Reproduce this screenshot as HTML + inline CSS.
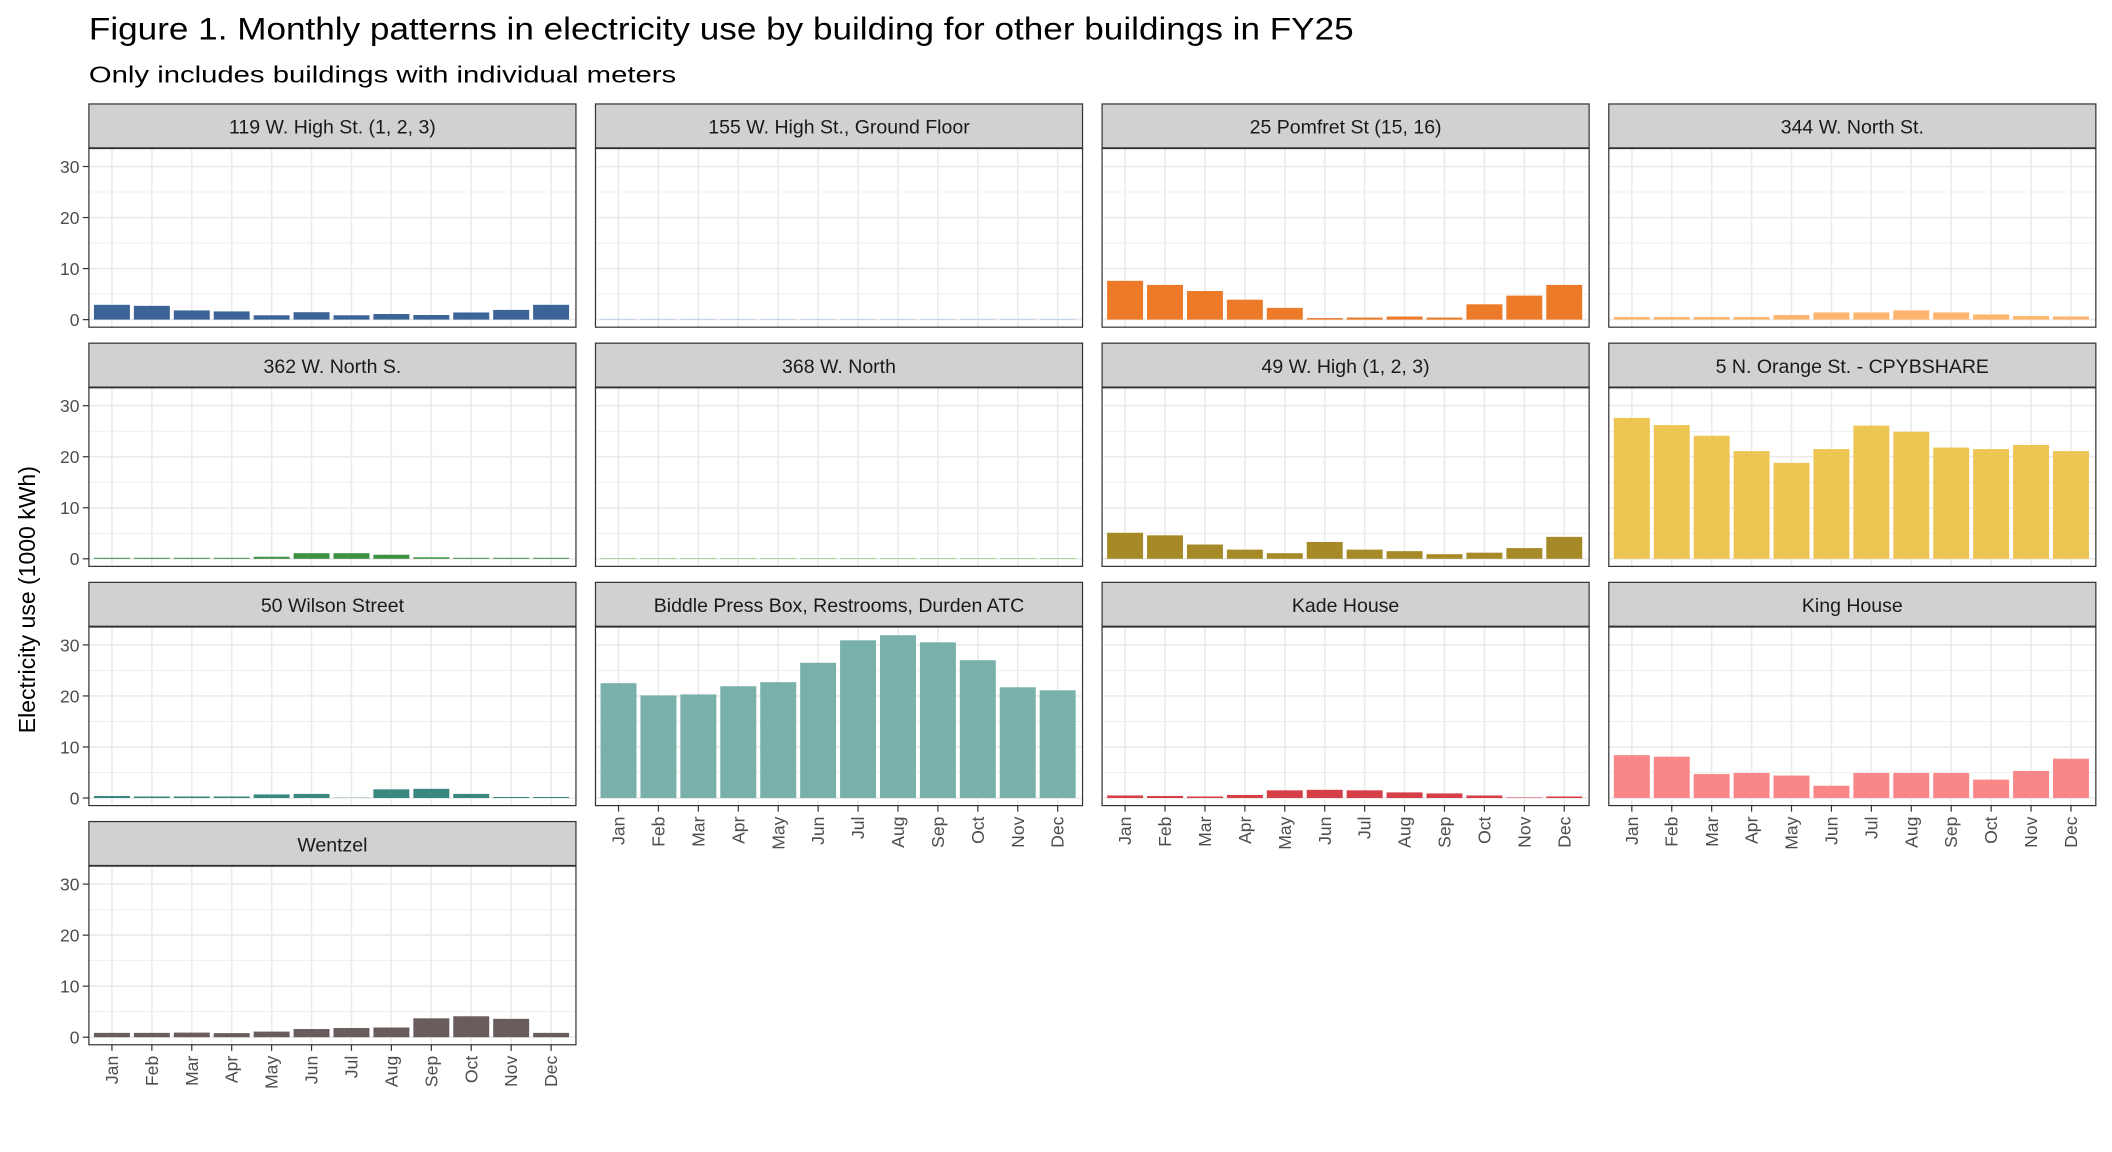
<!DOCTYPE html>
<html><head><meta charset="utf-8"><style>
html,body{margin:0;padding:0;background:#fff;}
svg{display:block;font-family:"Liberation Sans",Arial,sans-serif;}
.st{fill:#d1d1d1;stroke:#333;stroke-width:0.9}
.stt{font-size:14.5px;fill:#1a1a1a;text-anchor:middle}
.yl{font-size:13px;fill:#4d4d4d;text-anchor:end}
.xl{font-size:13px;fill:#4d4d4d;text-anchor:end}
.bd{fill:none;stroke:#333;stroke-width:0.9}
</style></head><body>
<svg width="2112" height="1152" viewBox="0 0 1568 851" preserveAspectRatio="none" xmlns="http://www.w3.org/2000/svg">
<defs>
<g id="grid">
<rect x="0" y="32.7" width="361.6" height="132.2" fill="#fff"/>
<g stroke="#ebebeb" stroke-width="0.6">
<line x1="0" x2="361.6" y1="140.45" y2="140.45"/><line x1="0" x2="361.6" y1="102.75" y2="102.75"/><line x1="0" x2="361.6" y1="65.05" y2="65.05"/>
</g>
<g stroke="#ebebeb" stroke-width="1.2">
<line x1="0" x2="361.6" y1="159.3" y2="159.3"/><line x1="0" x2="361.6" y1="121.6" y2="121.6"/><line x1="0" x2="361.6" y1="83.9" y2="83.9"/><line x1="0" x2="361.6" y1="46.2" y2="46.2"/>
<line y1="32.7" y2="164.9" x1="17.1" x2="17.1"/><line y1="32.7" y2="164.9" x1="46.74" x2="46.74"/><line y1="32.7" y2="164.9" x1="76.38" x2="76.38"/><line y1="32.7" y2="164.9" x1="106.02" x2="106.02"/><line y1="32.7" y2="164.9" x1="135.66" x2="135.66"/><line y1="32.7" y2="164.9" x1="165.3" x2="165.3"/><line y1="32.7" y2="164.9" x1="194.94" x2="194.94"/><line y1="32.7" y2="164.9" x1="224.58" x2="224.58"/><line y1="32.7" y2="164.9" x1="254.22" x2="254.22"/><line y1="32.7" y2="164.9" x1="283.86" x2="283.86"/><line y1="32.7" y2="164.9" x1="313.5" x2="313.5"/><line y1="32.7" y2="164.9" x1="343.14" x2="343.14"/>
</g>
</g>
<g id="frame">
<rect class="bd" x="0" y="32.7" width="361.6" height="132.2"/>
<rect class="st" x="0" y="0" width="361.6" height="32.7"/>
<line x1="0" x2="361.6" y1="32.7" y2="32.7" stroke="#333" stroke-width="1.4"/>
</g>
<g id="yax" stroke="#333" stroke-width="0.9">
<line x1="-4.5" x2="0" y1="159.3" y2="159.3"/><line x1="-4.5" x2="0" y1="121.6" y2="121.6"/><line x1="-4.5" x2="0" y1="83.9" y2="83.9"/><line x1="-4.5" x2="0" y1="46.2" y2="46.2"/>
</g>
<g id="xax" stroke="#333" stroke-width="0.9">
<line y1="164.9" y2="169.4" x1="17.1" x2="17.1"/><line y1="164.9" y2="169.4" x1="46.74" x2="46.74"/><line y1="164.9" y2="169.4" x1="76.38" x2="76.38"/><line y1="164.9" y2="169.4" x1="106.02" x2="106.02"/><line y1="164.9" y2="169.4" x1="135.66" x2="135.66"/><line y1="164.9" y2="169.4" x1="165.3" x2="165.3"/><line y1="164.9" y2="169.4" x1="194.94" x2="194.94"/><line y1="164.9" y2="169.4" x1="224.58" x2="224.58"/><line y1="164.9" y2="169.4" x1="254.22" x2="254.22"/><line y1="164.9" y2="169.4" x1="283.86" x2="283.86"/><line y1="164.9" y2="169.4" x1="313.5" x2="313.5"/><line y1="164.9" y2="169.4" x1="343.14" x2="343.14"/>
</g>
</defs>

<text x="66" y="29" font-size="23" fill="#000" textLength="939" lengthAdjust="spacingAndGlyphs">Figure 1. Monthly patterns in electricity use by building for other buildings in FY25</text>
<text x="66" y="61" font-size="17" fill="#000" textLength="436" lengthAdjust="spacingAndGlyphs">Only includes buildings with individual meters</text>
<text transform="translate(26,443) rotate(-90)" font-size="17" fill="#000" text-anchor="middle">Electricity use (1000 kWh)</text>

<!-- Row 1 -->
<g transform="translate(66,76.8)">
<use href="#grid"/>
<g transform="translate(0,159.3) scale(1,-3.77)" fill="#3d6496">
<rect x="3.75" width="26.7" height="2.9"/><rect x="33.39" width="26.7" height="2.7"/><rect x="63.03" width="26.7" height="1.8"/><rect x="92.67" width="26.7" height="1.6"/><rect x="122.31" width="26.7" height="0.85"/><rect x="151.95" width="26.7" height="1.45"/><rect x="181.59" width="26.7" height="0.85"/><rect x="211.23" width="26.7" height="1.1"/><rect x="240.87" width="26.7" height="0.9"/><rect x="270.51" width="26.7" height="1.4"/><rect x="300.15" width="26.7" height="1.9"/><rect x="329.79" width="26.7" height="2.9"/>
</g>
<use href="#frame"/><text class="stt" x="180.8" y="22">119 W. High St. (1, 2, 3)</text>
<use href="#yax"/>
<text class="yl" x="-7" y="164">0</text><text class="yl" x="-7" y="126.3">10</text><text class="yl" x="-7" y="88.6">20</text><text class="yl" x="-7" y="50.9">30</text>
</g>
<g transform="translate(442.1,76.8)">
<use href="#grid"/>
<g transform="translate(0,159.3) scale(1,-3.77)" fill="#aec7e8">
<rect x="3.75" width="26.7" height="0.15"/><rect x="33.39" width="26.7" height="0.15"/><rect x="63.03" width="26.7" height="0.15"/><rect x="92.67" width="26.7" height="0.12"/><rect x="122.31" width="26.7" height="0.12"/><rect x="151.95" width="26.7" height="0.12"/><rect x="181.59" width="26.7" height="0.12"/><rect x="211.23" width="26.7" height="0.12"/><rect x="240.87" width="26.7" height="0.12"/><rect x="270.51" width="26.7" height="0.15"/><rect x="300.15" width="26.7" height="0.15"/><rect x="329.79" width="26.7" height="0.15"/>
</g>
<use href="#frame"/><text class="stt" x="180.8" y="22">155 W. High St., Ground Floor</text>
</g>
<g transform="translate(818.2,76.8)">
<use href="#grid"/>
<g transform="translate(0,159.3) scale(1,-3.77)" fill="#ec7a28">
<rect x="3.75" width="26.7" height="7.6"/><rect x="33.39" width="26.7" height="6.8"/><rect x="63.03" width="26.7" height="5.6"/><rect x="92.67" width="26.7" height="3.9"/><rect x="122.31" width="26.7" height="2.3"/><rect x="151.95" width="26.7" height="0.3"/><rect x="181.59" width="26.7" height="0.4"/><rect x="211.23" width="26.7" height="0.6"/><rect x="240.87" width="26.7" height="0.4"/><rect x="270.51" width="26.7" height="3.0"/><rect x="300.15" width="26.7" height="4.7"/><rect x="329.79" width="26.7" height="6.8"/>
</g>
<use href="#frame"/><text class="stt" x="180.8" y="22">25 Pomfret St (15, 16)</text>
</g>
<g transform="translate(1194.4,76.8)">
<use href="#grid"/>
<g transform="translate(0,159.3) scale(1,-3.77)" fill="#fdb56e">
<rect x="3.75" width="26.7" height="0.5"/><rect x="33.39" width="26.7" height="0.5"/><rect x="63.03" width="26.7" height="0.5"/><rect x="92.67" width="26.7" height="0.5"/><rect x="122.31" width="26.7" height="0.9"/><rect x="151.95" width="26.7" height="1.4"/><rect x="181.59" width="26.7" height="1.4"/><rect x="211.23" width="26.7" height="1.8"/><rect x="240.87" width="26.7" height="1.4"/><rect x="270.51" width="26.7" height="1.0"/><rect x="300.15" width="26.7" height="0.7"/><rect x="329.79" width="26.7" height="0.6"/>
</g>
<use href="#frame"/><text class="stt" x="180.8" y="22">344 W. North St.</text>
</g>

<!-- Row 2 -->
<g transform="translate(66,253.5)">
<use href="#grid"/>
<g transform="translate(0,159.3) scale(1,-3.77)" fill="#3c9242">
<rect x="3.75" width="26.7" height="0.2"/><rect x="33.39" width="26.7" height="0.2"/><rect x="63.03" width="26.7" height="0.2"/><rect x="92.67" width="26.7" height="0.2"/><rect x="122.31" width="26.7" height="0.4"/><rect x="151.95" width="26.7" height="1.1"/><rect x="181.59" width="26.7" height="1.1"/><rect x="211.23" width="26.7" height="0.8"/><rect x="240.87" width="26.7" height="0.3"/><rect x="270.51" width="26.7" height="0.2"/><rect x="300.15" width="26.7" height="0.2"/><rect x="329.79" width="26.7" height="0.2"/>
</g>
<use href="#frame"/><text class="stt" x="180.8" y="22">362 W. North S.</text>
<use href="#yax"/>
<text class="yl" x="-7" y="164">0</text><text class="yl" x="-7" y="126.3">10</text><text class="yl" x="-7" y="88.6">20</text><text class="yl" x="-7" y="50.9">30</text>
</g>
<g transform="translate(442.1,253.5)">
<use href="#grid"/>
<g transform="translate(0,159.3) scale(1,-3.77)" fill="#8fd07c">
<rect x="3.75" width="26.7" height="0.15"/><rect x="33.39" width="26.7" height="0.15"/><rect x="63.03" width="26.7" height="0.15"/><rect x="92.67" width="26.7" height="0.15"/><rect x="122.31" width="26.7" height="0.15"/><rect x="151.95" width="26.7" height="0.15"/><rect x="181.59" width="26.7" height="0.15"/><rect x="211.23" width="26.7" height="0.15"/><rect x="240.87" width="26.7" height="0.15"/><rect x="270.51" width="26.7" height="0.15"/><rect x="300.15" width="26.7" height="0.15"/><rect x="329.79" width="26.7" height="0.15"/>
</g>
<use href="#frame"/><text class="stt" x="180.8" y="22">368 W. North</text>
</g>
<g transform="translate(818.2,253.5)">
<use href="#grid"/>
<g transform="translate(0,159.3) scale(1,-3.77)" fill="#a68a27">
<rect x="3.75" width="26.7" height="5.1"/><rect x="33.39" width="26.7" height="4.6"/><rect x="63.03" width="26.7" height="2.8"/><rect x="92.67" width="26.7" height="1.8"/><rect x="122.31" width="26.7" height="1.1"/><rect x="151.95" width="26.7" height="3.3"/><rect x="181.59" width="26.7" height="1.8"/><rect x="211.23" width="26.7" height="1.5"/><rect x="240.87" width="26.7" height="0.9"/><rect x="270.51" width="26.7" height="1.2"/><rect x="300.15" width="26.7" height="2.1"/><rect x="329.79" width="26.7" height="4.3"/>
</g>
<use href="#frame"/><text class="stt" x="180.8" y="22">49 W. High (1, 2, 3)</text>
</g>
<g transform="translate(1194.4,253.5)">
<use href="#grid"/>
<g transform="translate(0,159.3) scale(1,-3.77)" fill="#ecc552">
<rect x="3.75" width="26.7" height="27.6"/><rect x="33.39" width="26.7" height="26.2"/><rect x="63.03" width="26.7" height="24.1"/><rect x="92.67" width="26.7" height="21.1"/><rect x="122.31" width="26.7" height="18.8"/><rect x="151.95" width="26.7" height="21.5"/><rect x="181.59" width="26.7" height="26.1"/><rect x="211.23" width="26.7" height="24.9"/><rect x="240.87" width="26.7" height="21.8"/><rect x="270.51" width="26.7" height="21.5"/><rect x="300.15" width="26.7" height="22.3"/><rect x="329.79" width="26.7" height="21.1"/>
</g>
<use href="#frame"/><text class="stt" x="180.8" y="22">5 N. Orange St. - CPYBSHARE</text>
</g>

<!-- Row 3 -->
<g transform="translate(66,430.2)">
<use href="#grid"/>
<g transform="translate(0,159.3) scale(1,-3.77)" fill="#3a8780">
<rect x="3.75" width="26.7" height="0.4"/><rect x="33.39" width="26.7" height="0.3"/><rect x="63.03" width="26.7" height="0.3"/><rect x="92.67" width="26.7" height="0.3"/><rect x="122.31" width="26.7" height="0.7"/><rect x="151.95" width="26.7" height="0.8"/><rect x="181.59" width="26.7" height="0.05"/><rect x="211.23" width="26.7" height="1.7"/><rect x="240.87" width="26.7" height="1.8"/><rect x="270.51" width="26.7" height="0.8"/><rect x="300.15" width="26.7" height="0.2"/><rect x="329.79" width="26.7" height="0.2"/>
</g>
<use href="#frame"/><text class="stt" x="180.8" y="22">50 Wilson Street</text>
<use href="#yax"/>
<text class="yl" x="-7" y="164">0</text><text class="yl" x="-7" y="126.3">10</text><text class="yl" x="-7" y="88.6">20</text><text class="yl" x="-7" y="50.9">30</text>
</g>
<g transform="translate(442.1,430.2)">
<use href="#grid"/>
<g transform="translate(0,159.3) scale(1,-3.77)" fill="#79b1aa">
<rect x="3.75" width="26.7" height="22.5"/><rect x="33.39" width="26.7" height="20.1"/><rect x="63.03" width="26.7" height="20.3"/><rect x="92.67" width="26.7" height="21.9"/><rect x="122.31" width="26.7" height="22.7"/><rect x="151.95" width="26.7" height="26.5"/><rect x="181.59" width="26.7" height="30.9"/><rect x="211.23" width="26.7" height="31.9"/><rect x="240.87" width="26.7" height="30.5"/><rect x="270.51" width="26.7" height="27.0"/><rect x="300.15" width="26.7" height="21.7"/><rect x="329.79" width="26.7" height="21.1"/>
</g>
<use href="#frame"/><text class="stt" x="180.8" y="22">Biddle Press Box, Restrooms, Durden ATC</text>
<use href="#xax"/>
<g class="xl">
<text transform="translate(21.6,173) rotate(-90)">Jan</text><text transform="translate(51.2,173) rotate(-90)">Feb</text><text transform="translate(80.9,173) rotate(-90)">Mar</text><text transform="translate(110.5,173) rotate(-90)">Apr</text><text transform="translate(140.2,173) rotate(-90)">May</text><text transform="translate(169.8,173) rotate(-90)">Jun</text><text transform="translate(199.4,173) rotate(-90)">Jul</text><text transform="translate(229.1,173) rotate(-90)">Aug</text><text transform="translate(258.7,173) rotate(-90)">Sep</text><text transform="translate(288.4,173) rotate(-90)">Oct</text><text transform="translate(318,173) rotate(-90)">Nov</text><text transform="translate(347.6,173) rotate(-90)">Dec</text>
</g>
</g>
<g transform="translate(818.2,430.2)">
<use href="#grid"/>
<g transform="translate(0,159.3) scale(1,-3.77)" fill="#d63f47">
<rect x="3.75" width="26.7" height="0.5"/><rect x="33.39" width="26.7" height="0.4"/><rect x="63.03" width="26.7" height="0.3"/><rect x="92.67" width="26.7" height="0.6"/><rect x="122.31" width="26.7" height="1.5"/><rect x="151.95" width="26.7" height="1.6"/><rect x="181.59" width="26.7" height="1.5"/><rect x="211.23" width="26.7" height="1.1"/><rect x="240.87" width="26.7" height="0.9"/><rect x="270.51" width="26.7" height="0.5"/><rect x="300.15" width="26.7" height="0.1"/><rect x="329.79" width="26.7" height="0.3"/>
</g>
<use href="#frame"/><text class="stt" x="180.8" y="22">Kade House</text>
<use href="#xax"/>
<g class="xl">
<text transform="translate(21.6,173) rotate(-90)">Jan</text><text transform="translate(51.2,173) rotate(-90)">Feb</text><text transform="translate(80.9,173) rotate(-90)">Mar</text><text transform="translate(110.5,173) rotate(-90)">Apr</text><text transform="translate(140.2,173) rotate(-90)">May</text><text transform="translate(169.8,173) rotate(-90)">Jun</text><text transform="translate(199.4,173) rotate(-90)">Jul</text><text transform="translate(229.1,173) rotate(-90)">Aug</text><text transform="translate(258.7,173) rotate(-90)">Sep</text><text transform="translate(288.4,173) rotate(-90)">Oct</text><text transform="translate(318,173) rotate(-90)">Nov</text><text transform="translate(347.6,173) rotate(-90)">Dec</text>
</g>
</g>
<g transform="translate(1194.4,430.2)">
<use href="#grid"/>
<g transform="translate(0,159.3) scale(1,-3.77)" fill="#fa8787">
<rect x="3.75" width="26.7" height="8.4"/><rect x="33.39" width="26.7" height="8.1"/><rect x="63.03" width="26.7" height="4.7"/><rect x="92.67" width="26.7" height="4.9"/><rect x="122.31" width="26.7" height="4.4"/><rect x="151.95" width="26.7" height="2.4"/><rect x="181.59" width="26.7" height="4.9"/><rect x="211.23" width="26.7" height="4.9"/><rect x="240.87" width="26.7" height="4.9"/><rect x="270.51" width="26.7" height="3.6"/><rect x="300.15" width="26.7" height="5.3"/><rect x="329.79" width="26.7" height="7.7"/>
</g>
<use href="#frame"/><text class="stt" x="180.8" y="22">King House</text>
<use href="#xax"/>
<g class="xl">
<text transform="translate(21.6,173) rotate(-90)">Jan</text><text transform="translate(51.2,173) rotate(-90)">Feb</text><text transform="translate(80.9,173) rotate(-90)">Mar</text><text transform="translate(110.5,173) rotate(-90)">Apr</text><text transform="translate(140.2,173) rotate(-90)">May</text><text transform="translate(169.8,173) rotate(-90)">Jun</text><text transform="translate(199.4,173) rotate(-90)">Jul</text><text transform="translate(229.1,173) rotate(-90)">Aug</text><text transform="translate(258.7,173) rotate(-90)">Sep</text><text transform="translate(288.4,173) rotate(-90)">Oct</text><text transform="translate(318,173) rotate(-90)">Nov</text><text transform="translate(347.6,173) rotate(-90)">Dec</text>
</g>
</g>

<!-- Row 4 -->
<g transform="translate(66,606.9)">
<use href="#grid"/>
<g transform="translate(0,159.3) scale(1,-3.77)" fill="#685d5c">
<rect x="3.75" width="26.7" height="0.85"/><rect x="33.39" width="26.7" height="0.85"/><rect x="63.03" width="26.7" height="0.9"/><rect x="92.67" width="26.7" height="0.8"/><rect x="122.31" width="26.7" height="1.1"/><rect x="151.95" width="26.7" height="1.6"/><rect x="181.59" width="26.7" height="1.8"/><rect x="211.23" width="26.7" height="1.9"/><rect x="240.87" width="26.7" height="3.7"/><rect x="270.51" width="26.7" height="4.1"/><rect x="300.15" width="26.7" height="3.6"/><rect x="329.79" width="26.7" height="0.85"/>
</g>
<use href="#frame"/><text class="stt" x="180.8" y="22">Wentzel</text>
<use href="#yax"/>
<text class="yl" x="-7" y="164">0</text><text class="yl" x="-7" y="126.3">10</text><text class="yl" x="-7" y="88.6">20</text><text class="yl" x="-7" y="50.9">30</text>
<use href="#xax"/>
<g class="xl">
<text transform="translate(21.6,173) rotate(-90)">Jan</text><text transform="translate(51.2,173) rotate(-90)">Feb</text><text transform="translate(80.9,173) rotate(-90)">Mar</text><text transform="translate(110.5,173) rotate(-90)">Apr</text><text transform="translate(140.2,173) rotate(-90)">May</text><text transform="translate(169.8,173) rotate(-90)">Jun</text><text transform="translate(199.4,173) rotate(-90)">Jul</text><text transform="translate(229.1,173) rotate(-90)">Aug</text><text transform="translate(258.7,173) rotate(-90)">Sep</text><text transform="translate(288.4,173) rotate(-90)">Oct</text><text transform="translate(318,173) rotate(-90)">Nov</text><text transform="translate(347.6,173) rotate(-90)">Dec</text>
</g>
</g>
</svg>
</body></html>
